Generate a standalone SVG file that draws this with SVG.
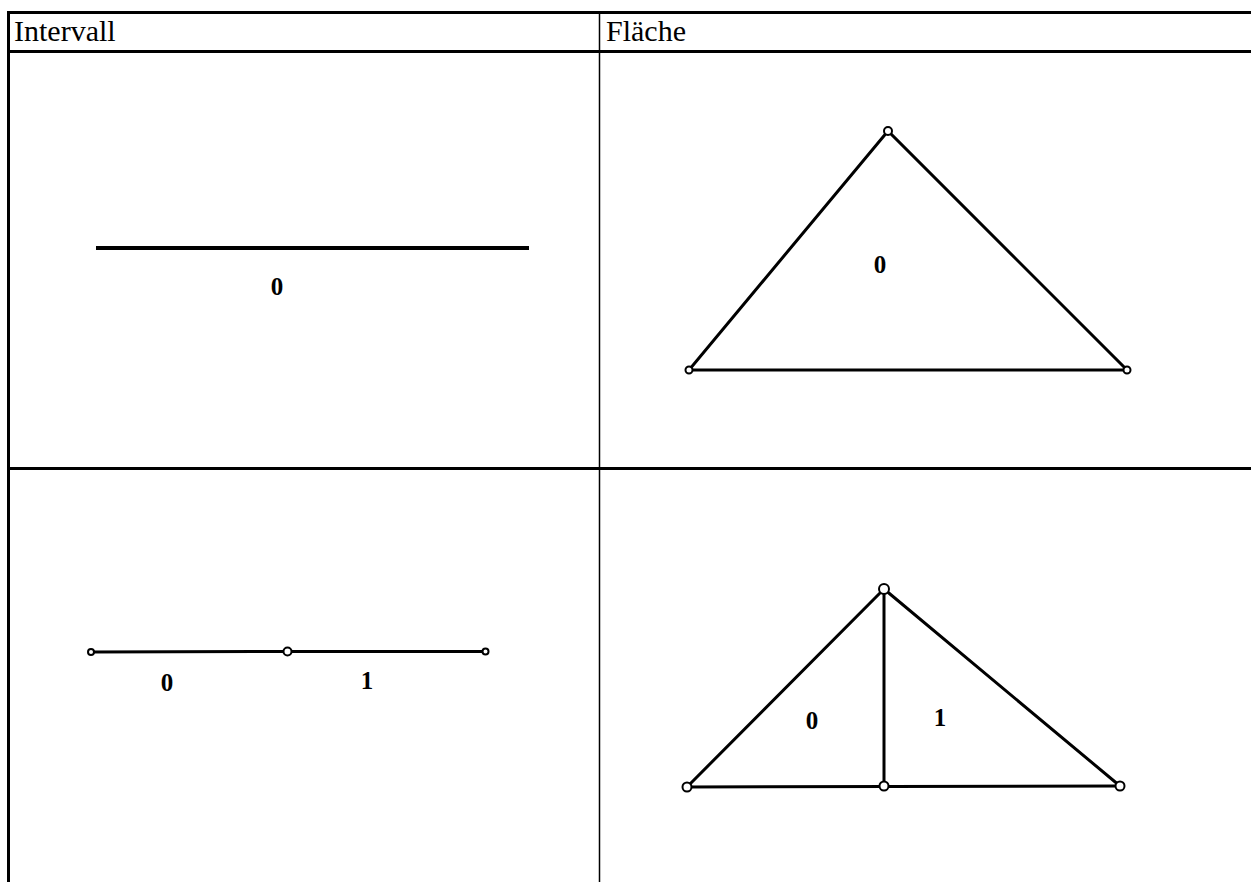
<svg xmlns="http://www.w3.org/2000/svg" width="1251" height="882" viewBox="0 0 1251 882">
<style>
.hdr{font-family:"Liberation Serif","DejaVu Serif","Noto Serif",serif;font-size:30px;fill:#000}
.lbl{font-family:"Liberation Serif","DejaVu Serif","Noto Serif",serif;font-size:25px;font-weight:bold;fill:#000;text-anchor:middle}
.tb{stroke:#000;fill:none}
.ed{stroke:#000;stroke-width:3;fill:none;stroke-linecap:round}
.v{fill:#fff;stroke:#000;stroke-width:2}
</style>
<rect width="1251" height="882" fill="#fff"/>
<g id="table">
<line class="tb" x1="7" y1="12.5" x2="1251" y2="12.5" stroke-width="3"/>
<line class="tb" x1="8.5" y1="11" x2="8.5" y2="882" stroke-width="3"/>
<line class="tb" x1="7" y1="51.5" x2="1251" y2="51.5" stroke-width="3"/>
<line class="tb" x1="7" y1="468.5" x2="1251" y2="468.5" stroke-width="3"/>
<line class="tb" x1="599.5" y1="12" x2="599.5" y2="882" stroke-width="1.5"/>
<text class="hdr" x="14" y="41">Intervall</text>
<text class="hdr" x="606" y="41">Fläche</text>
</g>
<g id="interval1">
<line x1="96" y1="248" x2="529" y2="248" stroke="#000" stroke-width="4"/>
<text class="lbl" x="277" y="295">0</text>
</g>
<g id="triangle1">
<polygon class="ed" points="888,131 689,370 1127,370" stroke-width="2.5"/>
<circle class="v" cx="888" cy="131" r="4"/>
<circle class="v" cx="689" cy="370" r="3.5"/>
<circle class="v" cx="1127" cy="370" r="3.5"/>
<text class="lbl" x="880" y="273">0</text>
</g>
<g id="interval2">
<line class="ed" x1="91" y1="652" x2="287" y2="651.5" stroke-width="2.5"/>
<line class="ed" x1="287" y1="651.5" x2="485" y2="651.5" stroke-width="2.5"/>
<circle class="v" cx="91" cy="652" r="3"/>
<circle class="v" cx="287.5" cy="651.5" r="4"/>
<circle class="v" cx="485.5" cy="651.5" r="3"/>
<text class="lbl" x="167" y="691">0</text>
<text class="lbl" x="367" y="689">1</text>
</g>
<g id="triangle2">
<line class="ed" x1="884" y1="589" x2="687" y2="787"/>
<line class="ed" x1="884" y1="589" x2="1120" y2="786"/>
<line class="ed" x1="687" y1="787" x2="1120" y2="786"/>
<line class="ed" x1="884" y1="589" x2="884" y2="786" stroke-width="3.5"/>
<circle class="v" cx="884" cy="589" r="5"/>
<circle class="v" cx="687" cy="787" r="4.5"/>
<circle class="v" cx="884" cy="786" r="4.5"/>
<circle class="v" cx="1120" cy="786" r="4.5"/>
<text class="lbl" x="812" y="729">0</text>
<text class="lbl" x="940" y="726">1</text>
</g>
</svg>
